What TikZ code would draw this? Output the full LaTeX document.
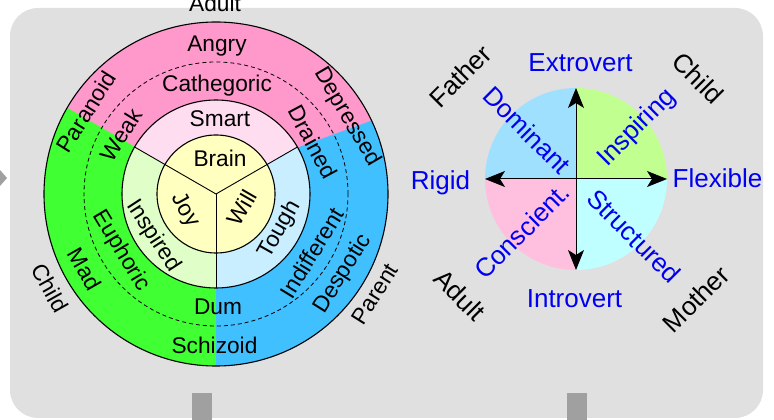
\documentclass[tikz,border=0pt]{standalone}
\usepackage{fontspec}
\setmainfont{Liberation Sans}
\usetikzlibrary{arrows.meta,calc}
\definecolor{bg}{RGB}{224,224,224}
\definecolor{tab}{RGB}{160,160,160}
\definecolor{opink}{RGB}{255,153,204}
\definecolor{ogreen}{RGB}{64,255,51}
\definecolor{oblue}{RGB}{64,192,255}
\definecolor{mpink}{RGB}{255,221,240}
\definecolor{mgreen}{RGB}{224,255,200}
\definecolor{mblue}{RGB}{200,238,255}
\definecolor{yel}{RGB}{255,255,192}
\definecolor{qtl}{RGB}{160,224,255}
\definecolor{qtr}{RGB}{192,255,144}
\definecolor{qbl}{RGB}{255,192,224}
\definecolor{qbr}{RGB}{192,255,255}
\definecolor{axisblue}{RGB}{0,0,240}
\begin{document}
\begin{tikzpicture}[x=1pt,y=1pt,
  lbl/.style={font=\fontsize{22.7}{26}\selectfont, inner sep=0pt},
  rlbl/.style={font=\fontsize{26}{30}\selectfont, inner sep=0pt},
  blu/.style={rlbl, text=axisblue},
  ring/.style={line width=1.1pt},
  divider/.style={line width=0.9pt},
  dashring/.style={line width=0.8pt, dash pattern=on 4pt off 3pt},
  axis/.style={line width=1pt, -{Stealth[length=20pt,width=16pt,inset=5pt]}}
]
\useasboundingbox (0,0) rectangle (774,420);
\clip (0,0) rectangle (774,420);

% panel background, tabs and side pointer
\fill[bg, rounded corners=28pt] (10,2) rectangle (763,412);
\fill[tab] (192,0) rectangle (212,27);
\fill[tab] (567,0) rectangle (587,27);
\fill[tab] (0,250) -- (7,242) -- (0,234) -- cycle;

% ---------- ego-state rings ----------
\coordinate (L) at (216,226);
\begin{scope}
  \clip (L) circle[radius=172];
  \fill[opink] (L) circle[radius=172];
  \fill[ogreen] (L) -- (135,273) -- (0,351) -- (0,0) -- (216,0) -- cycle;
  \fill[oblue] (L) -- (299,273) -- (420,317) -- (420,0) -- (216,0) -- cycle;
\end{scope}
\draw[ring] (L) circle[radius=172];
\draw[dashring] (L) circle[radius=132];

\fill[mpink] (L) -- ++(30:94) arc[start angle=30, end angle=150, radius=94] -- cycle;
\fill[mgreen] (L) -- ++(150:94) arc[start angle=150, end angle=270, radius=94] -- cycle;
\fill[mblue] (L) -- ++(270:94) arc[start angle=270, end angle=390, radius=94] -- cycle;
\draw[ring] (L) circle[radius=94];
\fill[yel] (L) circle[radius=59];
\draw[ring] (L) circle[radius=59];
\draw[divider] (L) -- ++(30:94);
\draw[divider] (L) -- ++(150:94);
\draw[divider] (L) -- ++(270:94);

% horizontal labels
\node[lbl, anchor=base] (adult1) at (215,408.3) {Adult};
\node[lbl, anchor=base] (angry) at (217,368) {Angry};
\node[lbl, anchor=base] (cath) at (217,328) {Cathegoric};
\node[lbl, anchor=base] (smart) at (220,293) {Smart};
\node[lbl, anchor=base] (brain) at (220,253.5) {Brain};
\node[lbl, anchor=base] (dum) at (218,105) {Dum};
\node[lbl, anchor=base] (schiz) at (214.5,66) {Schizoid};

% labels following the rings
\node[lbl, rotate=57.8] (paranoid) at ($(L)+(147.8:153.7)$) {Paranoid};
\node[lbl, rotate=58.2] (weak) at ($(L)+(148.2:111.8)$) {Weak};
\node[lbl, rotate=-59.6] (depr) at ($(L)+(30.4:152)$) {Depressed};
\node[lbl, rotate=-61.8] (drained) at ($(L)+(28.2:110)$) {Drained};
\node[lbl, rotate=-60.2] (mad) at ($(L)+(209.8:151)$) {Mad};
\node[lbl, rotate=-59] (euph) at ($(L)+(211:110.8)$) {Euphoric};
\node[lbl, rotate=-57] (insp) at ($(L)+(213.7:75.7)$) {Inspired};
\node[lbl, rotate=-61] (joy) at ($(L)+(207:35)$) {Joy};
\node[lbl, rotate=60] (will) at ($(L)+(331.7:29.5)$) {Will};
\node[lbl, rotate=60.6] (tough) at ($(L)+(330.6:73.4)$) {Tough};
\node[lbl, rotate=58.4] (indiff) at ($(L)+(328.4:112.7)$) {Indifferent};
\node[lbl, rotate=57.8] (desp) at ($(L)+(327.8:150)$) {Despotic};
\node[lbl, rotate=-60.5] (child1) at ($(L)+(209.5:190.8)$) {Child};
\node[lbl, rotate=57.8] (parent) at ($(L)+(327.8:187.8)$) {Parent};

% ---------- behaviour quadrants ----------
\coordinate (R) at (576,241);
\fill[qtr] (R) -- ++(0:91) arc[start angle=0, end angle=90, radius=91] -- cycle;
\fill[qtl] (R) -- ++(90:91) arc[start angle=90, end angle=180, radius=91] -- cycle;
\fill[qbl] (R) -- ++(180:91) arc[start angle=180, end angle=270, radius=91] -- cycle;
\fill[qbr] (R) -- ++(270:91) arc[start angle=270, end angle=360, radius=91] -- cycle;
\coordinate (rE) at ($(R)+(0:91)$);
\coordinate (rN) at ($(R)+(90:91)$);
\coordinate (rW) at ($(R)+(180:91)$);
\coordinate (rS) at ($(R)+(270:91)$);
\draw[axis] (R) -- (rE);
\draw[axis] (R) -- (rN);
\draw[axis] (R) -- (rW);
\draw[axis] (R) -- (rS);

\node[blu, anchor=base] (extro) at (580.5,348) {Extrovert};
\node[blu, anchor=base] (rigid) at (440.5,230) {Rigid};
\node[blu, anchor=base] (flex) at (717.5,232) {Flexible};
\node[blu, anchor=base] (intro) at (574.5,112) {Introvert};
\node[blu, rotate=-45] (dom) at (527,290) {Dominant};
\node[blu, rotate=45] (inspiring) at (637,292) {Inspiring};
\node[blu, rotate=45] (consc) at (522,189) {Conscient.};
\node[blu, rotate=-45] (struct) at (634,184) {Structured};

\node[rlbl, rotate=45] (father) at (460,344) {Father};
\node[rlbl, rotate=-45] (child2) at (698,342) {Child};
\node[rlbl, rotate=-45] (adult2) at (460,125) {Adult};
\node[rlbl, rotate=45] (mother) at (696,121) {Mother};
\end{tikzpicture}
\end{document}
